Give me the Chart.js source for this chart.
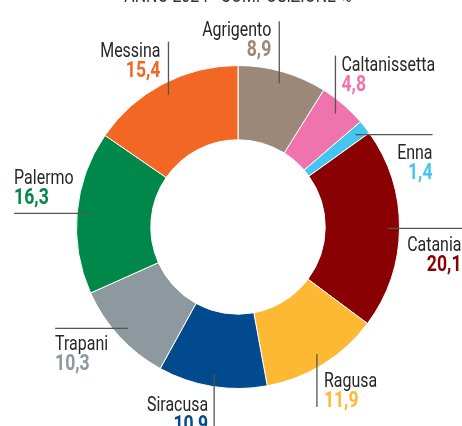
<!DOCTYPE html>
<html>
<head>
<meta charset="utf-8">
<script src="https://cdn.jsdelivr.net/npm/chart.js@4/dist/chart.umd.min.js"></script>
<style>
  body { margin: 0; background: #fff; }
</style>
</head>
<body>
<canvas id="chart" width="462" height="426"></canvas>
<script>
// province, share %, clockwise from 12 o'clock
var provinces = ['Agrigento', 'Caltanissetta', 'Enna', 'Catania', 'Ragusa', 'Siracusa', 'Trapani', 'Palermo', 'Messina'];
var shares = [8.9, 4.8, 1.4, 20.1, 11.9, 10.9, 10.3, 16.3, 15.4];
var colors = ['#9c8879', '#ef74ad', '#45c6f1', '#8a0103', '#fdb934', '#014a8e', '#8d989f', '#00874a', '#f26723'];
var title = 'ANNO 2024 - COMPOSIZIONE %';

// leader line + label placement, per slice (same order as provinces)
var labelLayout = [
  { dir: 'up', len: 62, dx: -8, dy: 15, align: 'right' },
  { dir: 'up', len: 58, dx: 6, dy: 15, align: 'left' },
  { dir: 'right', len: 77, dx: 0, dy: 24, align: 'right' },
  { dir: 'right', len: 76, dx: -2, dy: 23, align: 'right' },
  { dir: 'down', len: 53, dx: 7, dy: -20, align: 'left' },
  { dir: 'down', len: 60, dx: -6, dy: -24, align: 'right' },
  { dir: 'left', len: 73, dx: 0, dy: 22, align: 'left' },
  { dir: 'left', len: 75, dx: 0, dy: -29, align: 'left' },
  { dir: 'up', len: 53, dx: -8, dy: 15, align: 'right' }
];

//draw condensed text by squeezing the canvas horizontally
function squeezedText(ctx, text, x, y, align, sx) {
  ctx.save();
  ctx.translate(x, y);
  ctx.scale(sx, 1);
  ctx.textAlign = align;
  ctx.fillText(text, 0, 0);
  ctx.restore();
}

var labelsPlugin = {
  id: 'sliceLabels',
  afterDraw: function(chart) {
    var ctx = chart.ctx;
    var arcs = chart.getDatasetMeta(0).data;
    ctx.save();
    ctx.textBaseline = 'alphabetic';

    ctx.fillStyle = '#333';
    ctx.font = '21px Roboto';
    squeezedText(ctx, title, 238, 2, 'center', 0.76);

    arcs.forEach(function(arc, i) {
      var lay = labelLayout[i];
      var mid = (arc.startAngle + arc.endAngle) / 2;
      var r = arc.outerRadius - 12;
      var ax = arc.x + Math.cos(mid) * r;
      var ay = arc.y + Math.sin(mid) * r;
      var ex = ax, ey = ay;
      if (lay.dir === 'up') ey = ay - lay.len;
      if (lay.dir === 'down') ey = ay + lay.len;
      if (lay.dir === 'left') ex = ax - lay.len;
      if (lay.dir === 'right') ex = ax + lay.len;

      ctx.strokeStyle = '#555';
      ctx.lineWidth = 1.3;
      ctx.beginPath();
      ctx.moveTo(ax, ay);
      ctx.lineTo(ex, ey);
      ctx.stroke();

      var tx = ex + lay.dx;
      var ty = ey + lay.dy;
      ctx.fillStyle = '#262626';
      ctx.font = '21px Roboto';
      squeezedText(ctx, provinces[i], tx, ty, lay.align, 0.76);
      ctx.fillStyle = colors[i];
      ctx.font = 'bold 22px Roboto';
      squeezedText(ctx, shares[i].toFixed(1).replace('.', ','), tx, ty + 20, lay.align, 0.8);
    });
    ctx.restore();
  }
};

var chart = document.getElementById('chart').getContext('2d');
var shareChart = new Chart(chart, {
  type: 'doughnut',
  data: {
    labels: provinces,
    datasets: [{
      data: shares,
      backgroundColor: colors,
      borderColor: '#fff',
      borderWidth: 1,
      hoverOffset: 0
    }]
  },
  options: {
    responsive: false,
    animation: false,
    cutout: '54%',
    layout: { padding: { left: 76, right: 62, top: 65, bottom: 37 } },
    plugins: {
      legend: { display: false },
      tooltip: { enabled: false }
    }
  },
  plugins: [labelsPlugin]
});
</script>
</body>
</html>
